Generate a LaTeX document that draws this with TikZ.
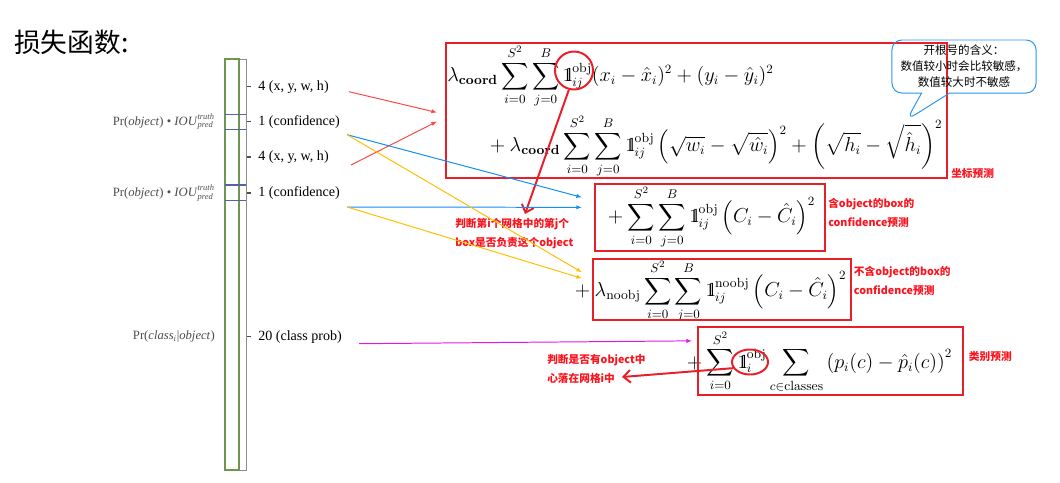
\documentclass[tikz,border=0pt]{standalone}
\usepackage{amsmath,amssymb}
\usepackage{fontspec}
\newfontfamily\cjk{Noto Sans CJK SC}
\newfontfamily\serift{Liberation Serif}
\usetikzlibrary{arrows.meta, positioning, shapes.geometric, shapes.callouts, fit, calc}

\newcommand{\indic}{\mathrm{1}\mkern-4.5mu\mathrm{l}}

\definecolor{boxred}{RGB}{232,30,40}
\definecolor{tagred}{RGB}{250,20,30}
\definecolor{linkred}{RGB}{255,70,70}
\definecolor{linkblue}{RGB}{20,140,250}
\definecolor{linkyellow}{RGB}{255,190,0}
\definecolor{linkmag}{RGB}{230,20,230}
\definecolor{bargreen}{RGB}{110,150,80}
\definecolor{barblue}{RGB}{80,100,170}
\definecolor{calloutblue}{RGB}{40,150,240}

\begin{document}
\begin{tikzpicture}[
        x=0.025cm, y=-0.025cm,
        every node/.style={inner sep=0pt},
        lbl/.style={font=\serift\fontsize{10}{12}\selectfont, anchor=west},
        prlbl/.style={font=\serift\fontsize{9}{11}\selectfont, text=black!70, anchor=east},
        fml/.style={font=\fontsize{13.5}{16}\selectfont, anchor=west},
        redbox/.style={draw=boxred, line width=1.4pt, inner sep=0pt},
        tag/.style={font=\cjk\bfseries\fontsize{7.6}{13.5}\selectfont, text=tagred, anchor=west, align=left},
        ring/.style={draw=boxred, line width=1.4pt, ellipse},
        pointer/.style={draw=boxred, line width=1.4pt, -{Straight Barb[length=5pt, width=9pt]}},
        link/.style={line width=0.7pt, -{Latex[length=4pt, width=3pt]}},
    ]
    \useasboundingbox (0,0) rectangle (1060,482);

    % ── Title ──
    \node[font=\cjk\fontsize{19}{22}\selectfont, anchor=west] (title) at (14,42) {损失函数:};

    % ── Output vector bar ──
    \draw[black!45, line width=0.7pt] (225,59) rectangle (246,470);
    \draw[bargreen, line width=0.8pt] (225,59) rectangle (239,470);
    \foreach \y in {114.7,129.3,185,200.3}
        \draw[barblue, line width=0.8pt] (225,\y) -- (246,\y);
    \foreach \y in {86.7,121.7,157,193,336.7}
        \draw[black!70, line width=0.8pt] (247,\y) -- (251,\y);

    % ── Vector labels ──
    \node[lbl] (xywh1) at (258,86.7) {4 (x, y, w, h)};
    \node[lbl] (conf1) at (258,121.7) {1 (confidence)};
    \node[lbl] (xywh2) at (258,157) {4 (x, y, w, h)};
    \node[lbl] (conf2) at (258,193) {1 (confidence)};
    \node[lbl] (cls) at (258,336.7) {20 (class prob)};
    \node[prlbl] (pr1) at (215,121.7) {Pr(\textit{object}) \textbullet{} \textit{IOU}$^{\text{\itshape truth}}_{\text{\itshape pred}}$};
    \node[prlbl] (pr2) at (215,193) {Pr(\textit{object}) \textbullet{} \textit{IOU}$^{\text{\itshape truth}}_{\text{\itshape pred}}$};
    \node[prlbl] (pr3) at (215,336.7) {Pr(\textit{class}$_{\text{\itshape i}}$|\textit{object})};

    % ── Loss terms ──
    \node[fml] (coordA) at (447,76) {$\displaystyle \lambda_{\textbf{coord}} \sum_{i=0}^{S^2}\sum_{j=0}^{B} \indic_{ij}^{\text{obj}} (x_i-\hat{x}_i)^2 + (y_i-\hat{y}_i)^2$};
    \node[fml] (coordB) at (485,146) {$\displaystyle {}+ \lambda_{\textbf{coord}} \sum_{i=0}^{S^2}\sum_{j=0}^{B} \indic_{ij}^{\text{obj}} \left(\sqrt{w_i}-\sqrt{\hat{w}_i}\right)^2 + \left(\sqrt{h_i}-\sqrt{\hat{h}_i}\right)^2$};
    \node[fml] (confA) at (603,217) {$\displaystyle {}+ \sum_{i=0}^{S^2}\sum_{j=0}^{B} \indic_{ij}^{\text{obj}} \left(C_i-\hat{C}_i\right)^2$};
    \node[fml] (confB) at (570,291) {$\displaystyle {}+ \lambda_{\text{noobj}} \sum_{i=0}^{S^2}\sum_{j=0}^{B} \indic_{ij}^{\text{noobj}} \left(C_i-\hat{C}_i\right)^2$};
    \node[fml] (prob) at (682,362) {$\displaystyle {}+ \sum_{i=0}^{S^2} \indic_{i}^{\text{obj}} \sum_{c\in\text{classes}} \left(p_i(c)-\hat{p}_i(c)\right)^2$};

    % ── Red frames ──
    \node[redbox, fit={(446,43) (947,178)}] (coordbox) {};
    \node[redbox, fit={(595,184) (825,250.7)}] (confbox) {};
    \node[redbox, fit={(593,258.7) (850.7,320)}] (noobjbox) {};
    \node[redbox, fit={(698,326.7) (962.7,395)}] (probbox) {};

    % ── Frame tags ──
    \node[tag] (coordtag) at ($(coordbox.south east)+(3,-6)$) {坐标预测};
    \node[tag] (conftag) at ($(confbox.east)+(2,-4.5)$) {含object的box的\\confidence预测};
    \node[tag] (noobjtag) at ($(noobjbox.east)+(2,-8)$) {不含object的box的\\confidence预测};
    \node[tag] (probtag) at ($(probbox.east)+(5,-4)$) {类别预测};

    % ── Indicator notes ──
    \node[ring, minimum width=0.95cm, minimum height=0.95cm] (ring1) at (574,70.5) {};
    \node[ring, minimum width=0.9cm, minimum height=0.625cm] (ring2) at (750,362) {};
    \node[tag] (note1) at (455,234) {判断第i个网格中的第j个\\box是否负责这个object};
    \node[tag] (note2) at (547,368.5) {判断是否有object中\\心落在网格i中};
    \coordinate (tip1) at (525,214);
    \coordinate (tip2) at (622,377);
    \draw[pointer] (ring1.255) -- (tip1);
    \draw[pointer] (ring2.200) -- (tip2);

    % ── Callout ──
    \node[draw=calloutblue, line width=0.7pt, rectangle callout, rounded corners=7pt,
          minimum width=3.6cm, minimum height=1.325cm,
          callout absolute pointer={(906.7,120)}, callout pointer width=0.7cm,
          align=center, font=\cjk\fontsize{8.2}{11.4}\selectfont] (sqrtnote) at (964,66.5)
          {开根号的含义：\\数值较小时会比较敏感，\\数值较大时不敏感};

    % ── Links: vector entries → loss terms ──
    \draw[link, linkred] ($(xywh1.east)+(20,5)$) -- ($(coordbox.west)+(-8,2)$);
    \draw[link, linkred] ($(xywh2.east)+(22,8)$) -- ($(coordbox.west)+(-8,11)$);
    \draw[link, linkblue] ($(conf1.east)+(7,13)$) -- ($(confbox.west)+(-12,-20)$);
    \draw[link, linkblue] ($(conf2.east)+(7,14)$) -- ($(confbox.west)+(-12,-10)$);
    \draw[link, linkyellow] ($(conf1.east)+(7,13)$) -- ($(noobjbox.west)+(-10,-17)$);
    \draw[link, linkyellow] ($(conf2.east)+(7,14)$) -- ($(noobjbox.west)+(-10,-11)$);
    \draw[link, linkmag] ($(cls.east)+(17,7)$) -- ($(probbox.west)+(-5,-20)$);

\end{tikzpicture}
\end{document}
